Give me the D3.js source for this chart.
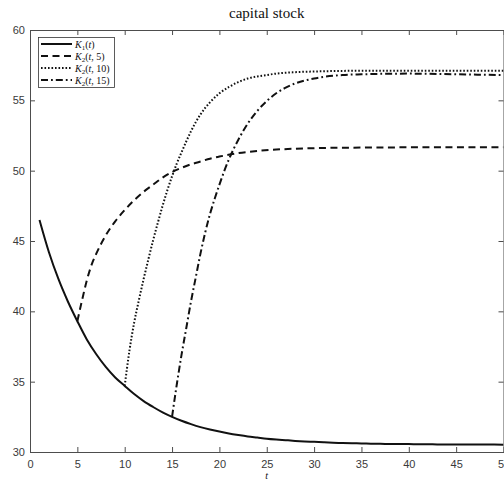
<!DOCTYPE html>
<html>
<head>
<meta charset="utf-8">
<script src="https://cdn.jsdelivr.net/npm/d3@7/dist/d3.min.js"></script>
<style>
html,body{margin:0;padding:0;background:#fff;overflow:hidden;}
svg{display:block;}
</style>
</head>
<body>
<script>
// ---- data ----
const titleText = "capital stock";
const xTicks = [0,5,10,15,20,25,30,35,40,45,50];
const yTicks = [30,35,40,45,50,55,60];

const k1T = [1,2,3,4,5,6,7,8,9,10,11,12,13,14,15,16,17,18,19,20,21,22,23,24,25,26,27,28,29,30,31,32,33,34,35,36,37,38,39,40,41,42,43,44,45,46,47,48,49,50];
const k1V = [46.5,44.2,42.3,40.7,39.3,38.0,36.95,36.05,35.3,34.7,34.12,33.62,33.2,32.82,32.5,32.22,31.98,31.77,31.6,31.45,31.32,31.21,31.11,31.03,30.95,30.89,30.84,30.79,30.75,30.72,30.69,30.66,30.64,30.62,30.61,30.59,30.58,30.57,30.56,30.56,30.55,30.55,30.54,30.54,30.54,30.53,30.53,30.53,30.53,30.52];

const k25T = [5,5.5,6,6.5,7,8,9,10,11,12,13,14,15,16,17,18,19,20,22,24,26,28,30,35,40,45,50];
const k25V = [39.3,40.8,42.2,43.3,44.1,45.4,46.4,47.2,47.9,48.5,49.0,49.5,49.9,50.2,50.45,50.65,50.85,51.0,51.25,51.4,51.5,51.56,51.6,51.64,51.66,51.67,51.67];

const k210T = [10,10.5,11,11.5,12,12.5,13,13.5,14,14.5,15,15.5,16,17,18,19,20,21,22,23,24,25,26,28,30,35,40,45,50];
const k210V = [34.7,37.2,39.2,40.8,42.3,43.7,45.05,46.3,47.5,48.6,49.6,50.5,51.3,52.8,54.0,54.85,55.5,55.95,56.3,56.55,56.7,56.8,56.9,57.0,57.05,57.1,57.1,57.1,57.1];

const k215T = [15,15.5,16,16.5,17,17.5,18,18.5,19,19.5,20,20.5,21,22,23,24,25,26,27,28,30,33,35,40,45,50];
const k215V = [32.5,34.8,36.9,38.8,40.7,42.4,44.1,45.6,46.9,48.0,49.0,49.95,50.8,52.2,53.35,54.25,54.95,55.5,55.9,56.2,56.55,56.8,56.85,56.9,56.85,56.8];

const seriesNames = ["K1", "K2_5", "K2_10", "K2_15"];
const legendMain = ["K", "K", "K", "K"];
const legendSub = ["1", "2", "2", "2"];
const legendArgs = ["(t)", "(t, 5)", "(t, 10)", "(t, 15)"];

// ---- layout ----
const W = 504, H = 481;
const L = 30, R = 503.5, T = 30, B = 452;

const svg = d3.select("body").append("svg").attr("width", W).attr("height", H);

const x = d3.scaleLinear().domain([0, 50]).range([L, R]);
const y = d3.scaleLinear().domain([30, 60]).range([B, T]);

const axisColor = "#4d4d4d";
const tickFont = "'Liberation Sans', Arial, Helvetica, sans-serif";
const serif = "'Liberation Serif', 'Times New Roman', serif";

// axes
const gx = svg.append("g").attr("transform", `translate(0,${B})`)
  .call(d3.axisBottom(x).tickValues(xTicks).tickSizeInner(-5).tickSizeOuter(0).tickPadding(8).tickFormat(d3.format("d")));
const gy = svg.append("g").attr("transform", `translate(${L},0)`)
  .call(d3.axisLeft(y).tickValues(yTicks).tickSizeInner(-5).tickSizeOuter(0).tickPadding(5).tickFormat(d3.format("d")));
const gxt = svg.append("g").attr("transform", `translate(0,${T})`)
  .call(d3.axisTop(x).tickValues(xTicks).tickSizeInner(-5).tickSizeOuter(0).tickFormat(""));
const gyr = svg.append("g").attr("transform", `translate(${R},0)`)
  .call(d3.axisRight(y).tickValues(yTicks).tickSizeInner(-5).tickSizeOuter(0).tickFormat(""));

[gx, gy, gxt, gyr].forEach(g => {
  g.selectAll("path.domain").attr("stroke", axisColor).attr("stroke-width", 1);
  g.selectAll(".tick line").attr("stroke", axisColor).attr("stroke-width", 1);
  g.selectAll(".tick text").attr("fill", "#3a3a3a").style("font-family", tickFont).style("font-size", "11px");
});

// clip
svg.append("clipPath").attr("id", "plotclip").append("rect")
  .attr("x", L).attr("y", T).attr("width", R - L).attr("height", B - T);

const line = d3.line().x(d => x(d[0])).y(d => y(d[1])).curve(d3.curveMonotoneX);

const series = [
  {t: k1T, v: k1V, dash: null},
  {t: k25T, v: k25V, dash: "7,4.5"},
  {t: k210T, v: k210V, dash: "1.6,1.9"},
  {t: k215T, v: k215V, dash: "7,3,1.8,3"}
];

const gPlot = svg.append("g").attr("clip-path", "url(#plotclip)");
series.forEach((s, i) => {
  gPlot.append("path")
    .datum(d3.zip(s.t, s.v))
    .attr("class", "series-" + seriesNames[i])
    .attr("d", line)
    .attr("fill", "none")
    .attr("stroke", "#111")
    .attr("stroke-width", 2)
    .attr("stroke-dasharray", s.dash);
});

// title
svg.append("text").attr("x", (L + R) / 2).attr("y", 18)
  .attr("text-anchor", "middle")
  .style("font-family", serif).style("font-size", "15px").attr("fill", "#111")
  .text(titleText);

// x label
svg.append("text").attr("x", (L + R) / 2).attr("y", 479)
  .attr("text-anchor", "middle")
  .style("font-family", serif).style("font-style", "italic").style("font-size", "10px").attr("fill", "#111")
  .text("t");

// legend
const lg = svg.append("g");
lg.append("rect").attr("x", 38.5).attr("y", 37.5).attr("width", 76).attr("height", 50)
  .attr("fill", "#fff").attr("stroke", "#333").attr("stroke-width", 0.8);
series.forEach((s, i) => {
  const yy = 44 + i * 12;
  lg.append("line").attr("x1", 41).attr("x2", 72).attr("y1", yy).attr("y2", yy)
    .attr("stroke", "#111").attr("stroke-width", 2).attr("stroke-dasharray", s.dash);
  const tx = lg.append("text").attr("x", 75).attr("y", yy + 3.5)
    .style("font-family", serif).style("font-size", "10px").attr("fill", "#111");
  tx.append("tspan").style("font-style", "italic").text(legendMain[i]);
  tx.append("tspan").attr("dy", 2.5).style("font-size", "7px").text(legendSub[i]);
  const args = legendArgs[i];
  tx.append("tspan").attr("dy", -2.5).text("(");
  tx.append("tspan").style("font-style", "italic").text("t");
  tx.append("tspan").text(args.slice(2));
});
</script>
</body>
</html>
